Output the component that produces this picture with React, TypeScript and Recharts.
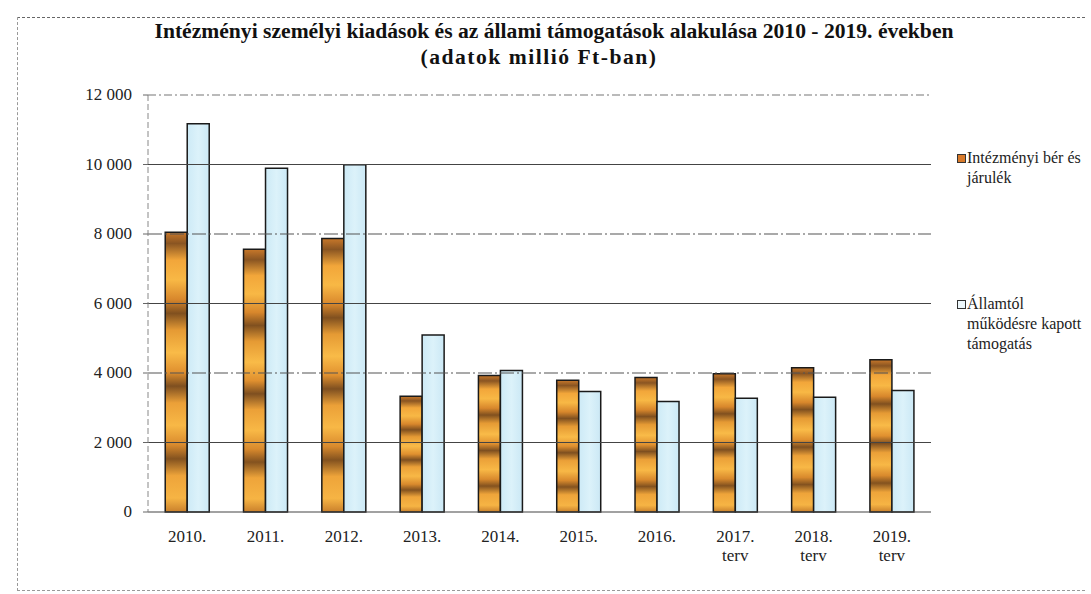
import React from "react";
import { BarChart, Bar, XAxis, YAxis, ReferenceLine, Legend } from "recharts";

const categories = ["2010.", "2011.", "2012.", "2013.", "2014.", "2015.", "2016.", "2017. terv", "2018. terv", "2019. terv"];
const berJarulek = [8050, 7560, 7870, 3330, 3930, 3790, 3870, 3980, 4150, 4380];
const allamiTamogatas = [11170, 9890, 9990, 5090, 4070, 3470, 3180, 3270, 3300, 3500];
const yTicks = [0, 2000, 4000, 6000, 8000, 10000, 12000];
const seriesNames = ["Intézményi bér és járulék", "Államtól működésre kapott támogatás"];
const legendLines = [["Intézményi bér és", "járulék"], ["Államtól", "működésre kapott", "támogatás"]];
const titleLines = ["Intézményi személyi kiadások és az állami támogatások alakulása 2010 - 2019. években", "(adatok millió Ft-ban)"];

const data = categories.map((c, i) => ({ cat: c, ber: berJarulek[i], tam: allamiTamogatas[i] }));

const FONT = "Liberation Serif";

const fmt = (v: number) => {
  const s = String(v);
  return s.length > 3 ? s.slice(0, s.length - 3) + " " + s.slice(-3) : s;
};

const XTick = (props: any) => {
  const { x, y, payload } = props;
  const parts = String(payload.value).split(" ");
  return (
    <text x={x} y={y} textAnchor="middle" style={{ fontFamily: FONT, fontSize: 17 }} fill="#222">
      {parts.map((p: string, i: number) => (
        <tspan key={i} x={x} dy={i === 0 ? 22 : 19}>{p}</tspan>
      ))}
    </text>
  );
};

const YTick = (props: any) => {
  const { x, y, payload } = props;
  return (
    <text x={x} y={y} dy={5} textAnchor="end" style={{ fontFamily: FONT, fontSize: 17 }} fill="#222">
      {fmt(payload.value)}
    </text>
  );
};

const LegendContent = (props: any) => {
  const { payload } = props;
  return (
    <div style={{ fontFamily: FONT, fontSize: 16, color: "#222", lineHeight: "20px" }}>
      {(payload || []).map((entry: any, i: number) => (
        <div key={i} style={{ position: "relative", paddingLeft: 10, marginBottom: i === 0 ? 106 : 0, fontFamily: FONT }}>
          <span
            style={{
              position: "absolute",
              left: 0,
              top: 6,
              width: 7,
              height: 7,
              border: "1px solid #333",
              background: i === 0 ? "#d97a2a" : "#eef8fc",
            }}
          />
          {legendLines[i].map((l, j) => (
            <div key={j} style={{ fontFamily: FONT, whiteSpace: "nowrap" }}>{l}</div>
          ))}
        </div>
      ))}
    </div>
  );
};

const gridStyles: Record<number, { stroke: string; dash?: string }> = {
  2000: { stroke: "#444" },
  4000: { stroke: "#555", dash: "14 3 2 3" },
  6000: { stroke: "#444" },
  8000: { stroke: "#555", dash: "14 3 2 3" },
  10000: { stroke: "#444" },
  12000: { stroke: "#777", dash: "8 3 2 3" },
};

const titleStyle: React.CSSProperties = {
  position: "absolute",
  width: 1000,
  textAlign: "center",
  fontFamily: FONT,
  fontWeight: "bold",
  fontSize: 21.6,
  lineHeight: "26px",
  color: "#111",
  whiteSpace: "nowrap",
};

export default function App() {
  return (
    <div style={{ position: "absolute", left: 0, top: 0, width: 1091, height: 594, background: "#fff", overflow: "hidden" }}>
      <div
        style={{
          position: "absolute",
          left: 17,
          top: 17,
          width: 1068,
          height: 574,
          borderTop: "1px dashed #666",
          borderLeft: "1px dashed #999",
          borderBottom: "1px dashed #999",
          boxSizing: "border-box",
        }}
      />
      <div style={{ ...titleStyle, left: 54, top: 18 }}>{titleLines[0]}</div>
      <div style={{ ...titleStyle, left: 39, top: 44, letterSpacing: 1.5 }}>{titleLines[1]}</div>
      <BarChart
        width={1091}
        height={594}
        data={data}
        margin={{ top: 95, right: 26, left: 88, bottom: 32 }}
        barCategoryGap="22%"
        barGap={0}
        style={{ position: "absolute", left: 0, top: 0 }}
      >
        <defs>
          <linearGradient id="woodGrad" x1="0" y1="0" x2="0" y2="1">
            <stop offset="0" stopColor="#c8782a" />
            <stop offset="0.04" stopColor="#8a5522" />
            <stop offset="0.1" stopColor="#f2a63a" />
            <stop offset="0.17" stopColor="#f8b845" />
            <stop offset="0.24" stopColor="#d8872c" />
            <stop offset="0.29" stopColor="#80501f" />
            <stop offset="0.35" stopColor="#e59a34" />
            <stop offset="0.43" stopColor="#f9bb48" />
            <stop offset="0.5" stopColor="#e0902f" />
            <stop offset="0.55" stopColor="#7e4f20" />
            <stop offset="0.61" stopColor="#eba038" />
            <stop offset="0.69" stopColor="#f8b846" />
            <stop offset="0.76" stopColor="#d98a2d" />
            <stop offset="0.81" stopColor="#83521f" />
            <stop offset="0.87" stopColor="#eea43a" />
            <stop offset="0.95" stopColor="#f6b444" />
            <stop offset="1" stopColor="#c9802c" />
          </linearGradient>
          <linearGradient id="iceGrad" x1="0" y1="0" x2="1" y2="0">
            <stop offset="0" stopColor="#cdeaf6" />
            <stop offset="0.5" stopColor="#dcf2fa" />
            <stop offset="1" stopColor="#cbe8f5" />
          </linearGradient>
        </defs>
        {yTicks.filter((v) => v > 0).map((v) => (
          <ReferenceLine
            key={v}
            y={v}
            stroke={gridStyles[v].stroke}
            strokeWidth={1.2}
            strokeDasharray={gridStyles[v].dash}
            ifOverflow="extendDomain"
          />
        ))}
        <XAxis
          dataKey="cat"
          interval={0}
          tickLine={false}
          axisLine={{ stroke: "#444", strokeWidth: 1.2 }}
          tick={<XTick />}
          height={50}
        />
        <YAxis
          domain={[0, 12000]}
          ticks={yTicks}
          interval={0}
          width={60}
          tickSize={5}
          tickMargin={11}
          axisLine={{ stroke: "#888", strokeDasharray: "6 3" }}
          tickLine={{ stroke: "#666" }}
          tick={<YTick />}
        />
        <Legend
          layout="vertical"
          verticalAlign="top"
          align="right"
          content={<LegendContent />}
          wrapperStyle={{ position: "absolute", left: 957, top: 148, width: 134 }}
        />
        <Bar dataKey="ber" name={seriesNames[0]} fill="url(#woodGrad)" stroke="#1a1a1a" strokeWidth={1.5} isAnimationActive={false} />
        <Bar dataKey="tam" name={seriesNames[1]} fill="url(#iceGrad)" stroke="#1a1a1a" strokeWidth={1.5} isAnimationActive={false} />
      </BarChart>
    </div>
  );
}
